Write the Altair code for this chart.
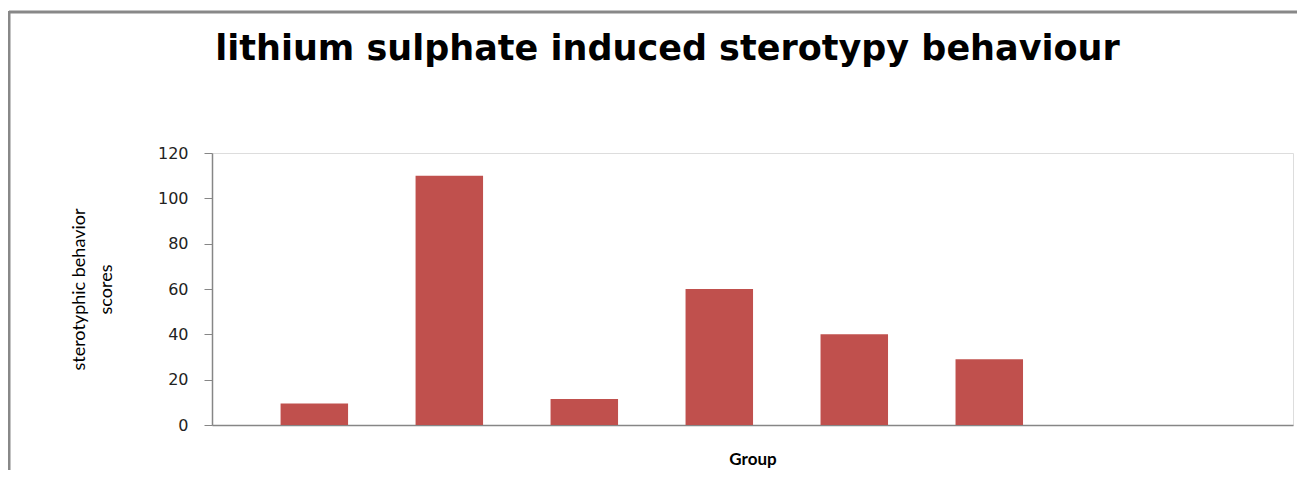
import altair as alt
import pandas as pd

# ---- data ----
groups = ["G1", "G2", "G3", "G4", "G5", "G6", "G7", "G8"]   # 8 category slots, last two empty
bar_groups = ["G1", "G2", "G3", "G4", "G5", "G6"]
scores = [9.5, 110, 11.5, 60, 40, 29]
y_ticks = [0, 20, 40, 60, 80, 100, 120]

title_text = "lithium sulphate induced sterotypy behaviour"
y_title = ["sterotyphic behavior", "scores"]
x_title = "Group"

df = pd.DataFrame({"group": bar_groups, "score": scores})
frame_df = pd.DataFrame({"k": [0]})

W, H = 1081, 272

bars = alt.Chart(df).mark_bar(color="#C0504D").encode(
    x=alt.X(
        "group:N",
        scale=alt.Scale(domain=groups, paddingInner=0.5, paddingOuter=0.254, align=1),
        sort=groups,
        axis=alt.Axis(
            title=x_title, labels=False, ticks=False, domainColor="#868686",
            domainWidth=1.5, titleFont="Lato", titleFontSize=17, titleFontWeight="bold",
            titleColor="#000000", titlePadding=26,
        ),
    ),
    y=alt.Y(
        "score:Q",
        scale=alt.Scale(domain=[0, 120], nice=False),
        axis=alt.Axis(
            title=y_title, values=y_ticks, grid=False, tickSize=8, tickColor="#868686",
            domainColor="#868686", domainWidth=1.5, labelFont="DejaVu Sans",
            labelFontSize=16, labelColor="#222222", labelPadding=16,
            titleFont="Lato", titleFontSize=18, titleFontWeight="normal",
            titleColor="#000000", titlePadding=42, titleLineHeight=27,
        ),
    ),
)

frame_top = alt.Chart(frame_df).mark_rule(color="#888888", strokeWidth=3).encode(
    x=alt.value(-203), x2=alt.value(1200), y=alt.value(-141)
)
frame_left = alt.Chart(frame_df).mark_rule(color="#888888", strokeWidth=3).encode(
    x=alt.value(-203), y=alt.value(-142), y2=alt.value(400)
)

chart = alt.layer(frame_top, frame_left, bars).properties(
    width=W, height=H,
    autosize=alt.AutoSizeParams(type="none"),
    padding={"left": 204, "top": 145, "right": 4, "bottom": 45},
    title=alt.TitleParams(
        title_text, font="DejaVu Sans", fontSize=35, fontWeight="bold", color="#000000",
        anchor="middle", dx=-85, offset=0, dy=85, baseline="alphabetic",
    ),
).configure_view(stroke="#d4d4d4", strokeWidth=1).configure(background="white")

chart.save("out.html", embed_options={"renderer": "svg", "actions": False})
